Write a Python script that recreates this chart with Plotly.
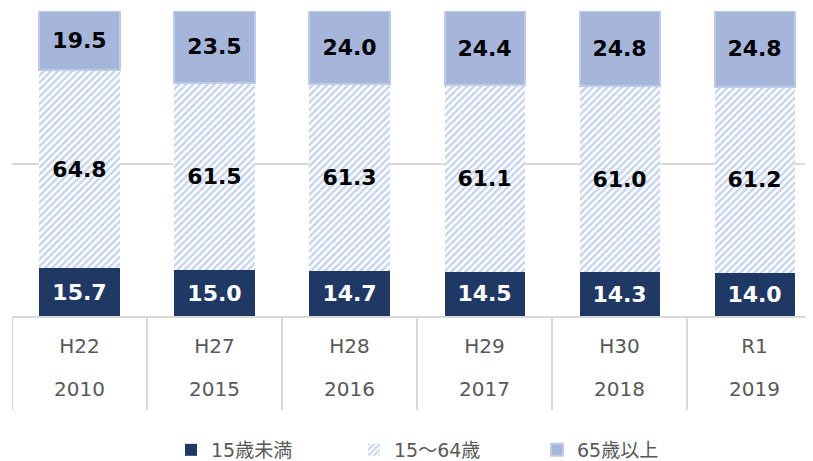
import plotly.graph_objects as go

years = ["2010", "2015", "2016", "2017", "2018", "2019"]
eras = ["H22", "H27", "H28", "H29", "H30", "R1"]
under15 = [15.7, 15.0, 14.7, 14.5, 14.3, 14.0]
age15_64 = [64.8, 61.5, 61.3, 61.1, 61.0, 61.2]
over65 = [19.5, 23.5, 24.0, 24.4, 24.8, 24.8]
names = ["15歳未満", "15～64歳", "65歳以上"]

FONT = "DejaVu Sans, Noto Sans CJK JP, sans-serif"
GRID = "#D9D9D9"
TXT = "#595959"

fig = go.Figure()
common = dict(texttemplate="%{y:.1f}", textposition="inside", insidetextanchor="middle",
              textangle=0, constraintext="none")
fig.add_trace(go.Bar(
    x=eras, y=under15, name=names[0],
    marker=dict(color="#203864", line=dict(width=0)),
    textfont=dict(family=FONT, size=22, color="white", weight="bold"), **common,
))
fig.add_trace(go.Bar(
    x=eras, y=age15_64, name=names[1],
    marker=dict(color="white", line=dict(width=0),
                pattern=dict(shape="/", fgcolor="#8EA9DB", bgcolor="white",
                             size=5, solidity=0.5)),
    textfont=dict(family=FONT, size=22, color="black", weight="bold"), **common,
))
fig.add_trace(go.Bar(
    x=eras, y=over65, name=names[2],
    marker=dict(color="#A6B5DA", line=dict(width=2, color="#BDCBE8")),
    textfont=dict(family=FONT, size=22, color="black", weight="bold"), **common,
))

# table-like category dividers and the year row
n = len(eras)
for i in range(n + 1):
    fig.add_shape(type="line", xref="x", yref="paper", x0=i - 0.5, x1=i - 0.5,
                  y0=0, y1=-0.308, line=dict(color=GRID, width=2), layer="below")
for i, yr in enumerate(years):
    fig.add_annotation(x=eras[i], xref="x", yref="paper", y=-0.24, yanchor="middle",
                       text=yr, showarrow=False,
                       font=dict(family=FONT, size=20, color=TXT))

fig.update_layout(
    width=805, height=453,
    margin=dict(l=4, r=0, t=3, b=145, autoexpand=False),
    barmode="stack", bargap=0.407,
    plot_bgcolor="white", paper_bgcolor="white",
    font=dict(family=FONT, color=TXT),
    showlegend=True,
    legend=dict(orientation="h", traceorder="normal",
                x=0.1985, xanchor="left", y=-0.377, yanchor="top",
                font=dict(family=FONT, size=19, color=TXT),
                entrywidth=138, itemwidth=30, bgcolor="rgba(0,0,0,0)"),
)
fig.update_xaxes(
    type="category", range=[-0.5, 5.433], automargin=False,
    showline=True, linecolor=GRID, linewidth=2,
    tickfont=dict(family=FONT, size=20, color=TXT),
    ticks="", ticklabelstandoff=11, showgrid=False,
)
fig.update_yaxes(
    range=[0, 100], tickvals=[0, 50, 100], showticklabels=False, automargin=False,
    showgrid=True, gridcolor=GRID, gridwidth=2, zeroline=False,
)

fig.write_html("out.html")
